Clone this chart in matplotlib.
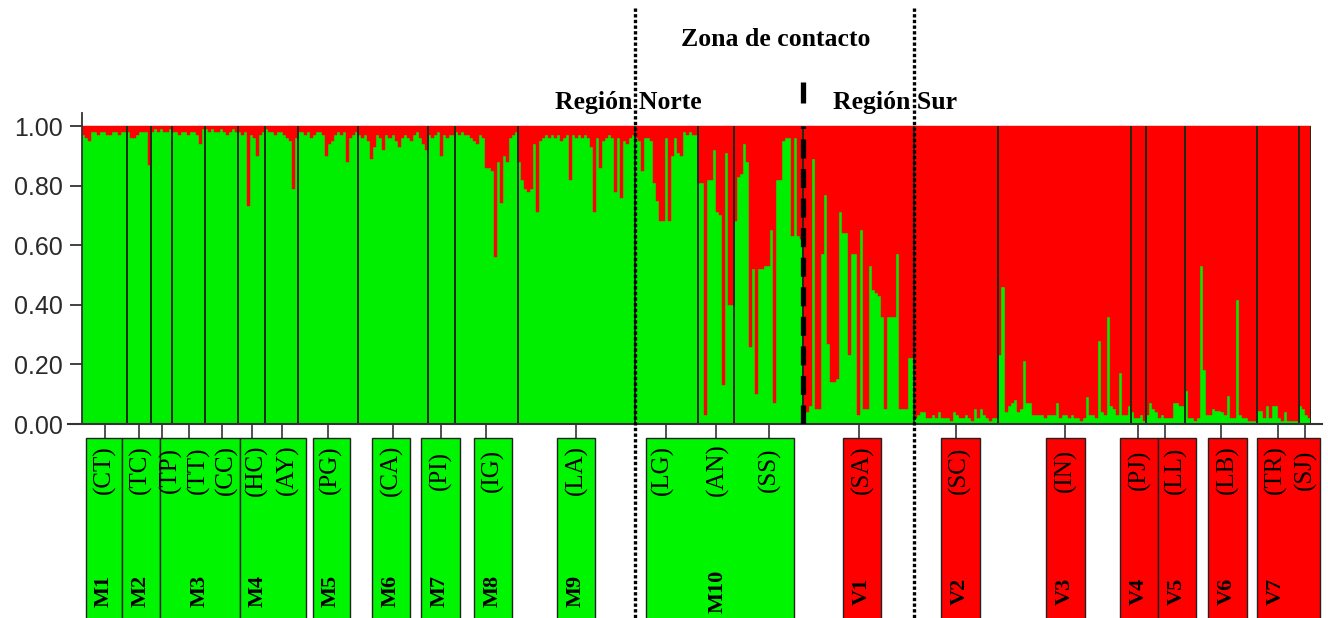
import numpy as np
import matplotlib
matplotlib.use("Agg")
import matplotlib.pyplot as plt
from matplotlib.patches import Rectangle

plt.rcParams['font.family'] = ['Liberation Sans', 'DejaVu Sans']

# proporcion del cluster verde (norte) por individuo, una lista por localidad
pops = ["CT", "TC", "TP", "TT", "CC", "HC", "AY", "PG", "CA", "PI", "IG", "LA",
        "LG", "AN", "SS", "SA", "SC", "IN", "PJ", "LL", "LB", "TR", "SJ"]

q_CT = [0.97, 0.96, 0.95, 0.98, 0.98, 0.97, 0.98, 0.98, 0.97, 0.97, 0.98, 0.98, 0.97, 0.98, 0.98]
q_TC = [0.98, 0.96, 0.96, 0.97, 0.98, 0.98, 0.98, 0.87]
q_TP = [0.98, 0.99, 0.98, 0.99, 0.98, 0.98, 0.99]
q_TT = [0.98, 0.98, 0.97, 0.98, 0.98, 0.97, 0.98, 0.98, 0.97, 0.94, 0.99]
q_CC = [0.99, 0.98, 0.99, 0.98, 0.98, 0.99, 0.98, 0.97, 0.98, 0.99, 0.98]
q_HC = [0.98, 0.97, 0.98, 0.73, 0.97, 0.96, 0.90, 0.97, 0.98]
q_AY = [0.99, 0.98, 0.98, 0.97, 0.98, 0.98, 0.97, 0.96, 0.95, 0.79, 0.96]
q_PG = [0.98, 0.98, 0.97, 0.98, 0.96, 0.97, 0.98, 0.98, 0.97, 0.90, 0.94, 0.95, 0.97, 0.98,
        0.97, 0.98, 0.88, 0.96, 0.97, 0.98]
q_CA = [0.97, 0.96, 0.97, 0.95, 0.89, 0.93, 0.97, 0.96, 0.92, 0.97, 0.96, 0.97, 0.95, 0.93,
        0.96, 0.97, 0.96, 0.95, 0.97, 0.98, 0.96, 0.94, 0.92]
q_PI = [0.97, 0.96, 0.97, 0.98, 0.90, 0.97, 0.96, 0.97, 0.97]
q_IG = [0.98, 0.97, 0.98, 0.97, 0.97, 0.96, 0.95, 0.94, 0.97, 0.96, 0.86, 0.86, 0.85, 0.56,
        0.88, 0.74, 0.90, 0.88, 0.96, 0.97, 0.98]
q_LA = [0.88, 0.82, 0.79, 0.78, 0.79, 0.94, 0.71, 0.95, 0.96, 0.97, 0.96, 0.97, 0.96, 0.97,
        0.95, 0.96, 0.97, 0.82, 0.97, 0.96, 0.97, 0.96, 0.97, 0.96, 0.93, 0.71, 0.96, 0.86,
        0.95, 0.96, 0.97, 0.96, 0.78, 0.96, 0.76, 0.95, 0.94, 0.96, 0.97]
q_LG = [0.96, 0.95, 0.85, 0.96, 0.96, 0.95, 0.81, 0.75, 0.68, 0.68, 0.96, 0.68, 0.90, 0.96,
        0.91, 0.90, 0.98, 0.97, 0.98, 0.97, 0.97]
q_AN = [0.81, 0.81, 0.03, 0.82, 0.82, 0.92, 0.71, 0.70, 0.13, 0.91, 0.40, 0.40]
q_SS = [0.68, 0.83, 0.84, 0.94, 0.88, 0.26, 0.52, 0.10, 0.52, 0.52, 0.53, 0.53, 0.65, 0.07,
        0.82, 0.82, 0.95, 0.96, 0.96, 0.63, 0.96, 0.63, 0.62]
q_SA = [0.04, 0.04, 0.06, 0.89, 0.05, 0.05, 0.57, 0.77, 0.27, 0.14, 0.14, 0.15, 0.71, 0.64,
        0.64, 0.23, 0.57, 0.57, 0.03, 0.65, 0.05, 0.05, 0.53, 0.45, 0.44, 0.43, 0.36, 0.05,
        0.36, 0.36, 0.36, 0.57, 0.05, 0.05, 0.05, 0.22, 0.22]
q_SC = [0.02, 0.03, 0.04, 0.04, 0.02, 0.02, 0.03, 0.02, 0.04, 0.02, 0.02, 0.02, 0.01, 0.04,
        0.03, 0.02, 0.02, 0.03, 0.02, 0.01, 0.05, 0.02, 0.05, 0.03, 0.02, 0.01, 0.02, 0.02]
q_IN = [0.23, 0.46, 0.04, 0.06, 0.07, 0.08, 0.04, 0.05, 0.21, 0.07, 0.07, 0.03, 0.03, 0.03,
        0.03, 0.02, 0.03, 0.03, 0.03, 0.07, 0.02, 0.03, 0.03, 0.02, 0.03, 0.02, 0.02, 0.01,
        0.02, 0.09, 0.03, 0.03, 0.02, 0.28, 0.04, 0.03, 0.36, 0.06, 0.05, 0.03, 0.17, 0.03,
        0.03, 0.06]
q_PJ = [0.04, 0.02, 0.02, 0.03, 0.01]
q_LL = [0.03, 0.07, 0.05, 0.04, 0.02, 0.03, 0.02, 0.02, 0.02, 0.07, 0.07, 0.06, 0.06]
q_LB = [0.11, 0.02, 0.02, 0.01, 0.02, 0.53, 0.18, 0.03, 0.03, 0.05, 0.045, 0.045, 0.04, 0.03,
        0.095, 0.02, 0.02, 0.415, 0.03, 0.02, 0.02, 0.01, 0.01, 0.01]
q_TR = [0.045, 0.045, 0.02, 0.06, 0.02, 0.06, 0.06, 0.02, 0.01, 0.04, 0.01, 0.01, 0.01, 0.01]
q_SJ = [0.06, 0.05, 0.03, 0.02]

# grupos (cajas) bajo el grafico
groups = ["M1", "M2", "M3", "M4", "M5", "M6", "M7", "M8", "M9", "M10",
          "V1", "V2", "V3", "V4", "V5", "V6", "V7"]

all_q = [q_CT, q_TC, q_TP, q_TT, q_CC, q_HC, q_AY, q_PG, q_CA, q_PI, q_IG, q_LA,
         q_LG, q_AN, q_SS, q_SA, q_SC, q_IN, q_PJ, q_LL, q_LB, q_TR, q_SJ]
q = np.concatenate([np.array(v) for v in all_q])
sizes = np.array([len(v) for v in all_q])
bounds = np.concatenate([[0], np.cumsum(sizes)])
centers = (bounds[:-1] + bounds[1:]) / 2.0
N = len(q)

GREEN = '#00ee00'
RED = '#ff0000'
BOXGREEN = '#00f500'

W, H = 1328, 618
X0, X1 = 82, 1311          # px of plot left/right
Y0, Y1 = 424, 126          # px of 0.00 and 1.00
ytop = 1.045

fig = plt.figure(figsize=(W / 100, H / 100), dpi=100)
ax = fig.add_axes([X0 / W, 1 - Y0 / H, (X1 - X0) / W, (Y0 - Y1) * ytop / H])
ax.set_xlim(0, N)
ax.set_ylim(0, ytop)


def px2x(px):
    return (px - X0) / (X1 - X0) * N


def py2y(py):
    return (Y0 - py) / (Y0 - Y1)


x = np.arange(N)
ax.bar(x, q, width=1, align='edge', color=GREEN, edgecolor=GREEN, linewidth=0.3)
ax.bar(x, 1 - q, bottom=q, width=1, align='edge', color=RED, edgecolor=RED, linewidth=0.3)

# separadores de localidades
ax.vlines(bounds[1:], 0, 1, color='#1c2a14', lw=1.4, zorder=3)

for s in ['top', 'right', 'bottom']:
    ax.spines[s].set_visible(False)
ax.spines['left'].set_color('#333333')
ax.spines['left'].set_linewidth(1.3)
ax.set_xticks([])
ax.set_yticks([0, 0.2, 0.4, 0.6, 0.8, 1.0])
ax.set_yticklabels(["0.00", "0.20", "0.40", "0.60", "0.80", "1.00"])
ax.tick_params(axis='y', length=9, width=1.3, pad=5, labelsize=18,
               colors='#333333', labelcolor='#2a2a2a')

# eje inferior
ax.plot([px2x(68), px2x(1322)], [0, 0], color='#333333', lw=1.5, clip_on=False, zorder=4)

# marcas bajo el eje
box_top = py2y(438)
ax.vlines(centers, box_top, 0, color='#333333', lw=1.2, clip_on=False)

# cajas de grupos (px izquierda, px derecha)
box_left = [86, 122, 160, 240, 313, 372, 421, 474, 557, 646,
            843, 941, 1046, 1120, 1158, 1208, 1257]
box_right = [122, 160, 240, 306, 350, 410, 460, 512, 595, 794,
             881, 980, 1085, 1158, 1196, 1247, 1320]
group_label_px = [104, 141, 200, 258, 331, 391, 440, 493, 576, 718,
                  862, 960, 1065, 1139, 1177, 1227, 1276]
pop_label_px = [104, 140, 170, 198, 226, 256, 287, 330, 391, 440, 492, 576,
                662, 717, 769, 862, 959, 1065, 1139, 1175, 1227, 1275, 1305]

for i, g in enumerate(groups):
    col = BOXGREEN if g.startswith("M") else RED
    l, r = px2x(box_left[i]), px2x(box_right[i])
    ax.add_patch(Rectangle((l, py2y(640)), r - l, box_top - py2y(640),
                           facecolor=col, edgecolor='#222222', lw=1.0, clip_on=False, zorder=2))
    ax.text(px2x(group_label_px[i]), py2y(591), g, rotation=90, ha='center', va='center',
            family='Liberation Serif', fontweight='bold', fontsize=16, clip_on=False, zorder=5)

for i, p in enumerate(pops):
    ax.text(px2x(pop_label_px[i]), py2y(470), "(" + p + ")", rotation=90, ha='center',
            va='center', family='Liberation Serif', fontsize=18, clip_on=False, zorder=5)

# linea de contacto (segmentada) y limites de la zona de contacto (punteadas)
xc = bounds[pops.index("SA")]
ax.plot([xc, xc], [0, 1], color='black', lw=3.8, linestyle=(0, (3.6, 2.0)), zorder=6)
ax.plot([xc, xc], [py2y(103), py2y(82)], color='black', lw=3.8, solid_capstyle='butt',
        clip_on=False, zorder=6)
for p in ["LG", "SC"]:
    xd = bounds[pops.index(p)]
    ax.plot([xd, xd], [py2y(8), py2y(640)], color='black', lw=2.4,
            linestyle=(0, (1.0, 0.7)), clip_on=False, zorder=6)

fig.text(776 / W, 1 - 40 / H, "Zona de contacto", ha='center', va='center',
         family='Liberation Serif', fontweight='bold', fontsize=18.5)
fig.text(628 / W, 1 - 103 / H, "Región Norte", ha='center', va='center',
         family='Liberation Serif', fontweight='bold', fontsize=18.5)
fig.text(895 / W, 1 - 103 / H, "Región Sur", ha='center', va='center',
         family='Liberation Serif', fontweight='bold', fontsize=18.5)

fig.savefig("out.png", dpi=100)
